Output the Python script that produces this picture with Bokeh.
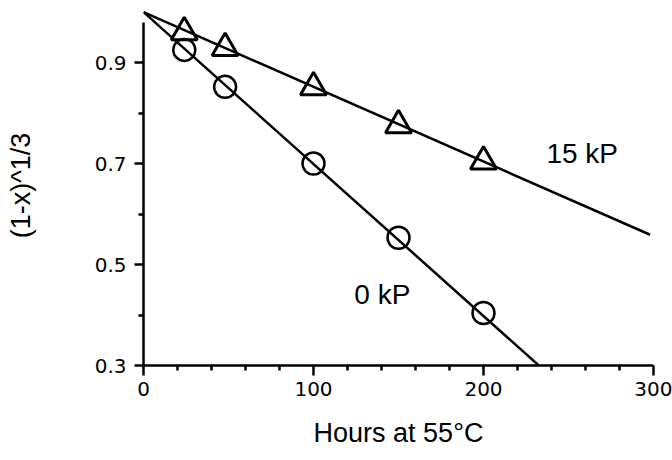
from bokeh.plotting import figure
from bokeh.models import FixedTicker, Range1d, Label
from bokeh.embed import file_html
from bokeh.resources import INLINE

# ---- data ----
hours = [24, 48, 100, 150, 200]
y_0kP = [0.925, 0.852, 0.700, 0.553, 0.404]
y_15kP = [0.960, 0.929, 0.851, 0.776, 0.704]

# fitted lines: intercept, slope, x range
fit_0kP_intercept, fit_0kP_slope = 1.0, -0.00301
fit_15kP_intercept, fit_15kP_slope = 1.0, -0.00148
fit_0kP_x = [0, 232.5]
fit_15kP_x = [0, 298]

x_ticks = [0, 100, 200, 300]
x_minor = [20, 40, 60, 80, 120, 140, 160, 180, 220, 240, 260, 280]
y_ticks = [0.3, 0.5, 0.7, 0.9]
y_minor = [0.4, 0.6, 0.8]

FONT = "Liberation Sans"

p = figure(width=672, height=460, output_backend="svg", toolbar_location=None,
           x_range=Range1d(0, 300), y_range=Range1d(0.3, 1.013),
           frame_width=510, frame_height=360,
           min_border_left=143, min_border_right=19, min_border_top=5, min_border_bottom=95)
p.outline_line_color = None
p.xgrid.visible = False
p.ygrid.visible = False
p.background_fill_color = "white"
p.border_fill_color = "white"

# fit lines
p.line(fit_0kP_x, [fit_0kP_intercept + fit_0kP_slope * x for x in fit_0kP_x],
       line_color="black", line_width=2.5)
p.line(fit_15kP_x, [fit_15kP_intercept + fit_15kP_slope * x for x in fit_15kP_x],
       line_color="black", line_width=2.5)

# markers
p.scatter(hours, y_0kP, marker="circle", size=22, fill_color=None,
          line_color="black", line_width=2.5)
p.scatter(hours, y_15kP, marker="triangle", size=26, fill_color=None,
          line_color="black", line_width=3)

# labels
p.add_layout(Label(x=237, y=0.69, text="15 kP", text_font=FONT, text_font_size="28px",
                   text_color="black"))
p.add_layout(Label(x=124, y=0.409, text="0 kP", text_font=FONT, text_font_size="28px",
                   text_color="black"))

# axes
xa = p.xaxis[0]
xa.ticker = FixedTicker(ticks=x_ticks, minor_ticks=x_minor)
xa.axis_label = "Hours at 55°C"
ya = p.yaxis[0]
ya.ticker = FixedTicker(ticks=y_ticks, minor_ticks=y_minor)
ya.axis_label = "(1-x)^1/3"
ya.bounds = (0.3, 0.979)

for ax in (xa, ya):
    ax.axis_line_width = 2.5
    ax.axis_line_color = "black"
    ax.major_tick_line_width = 2.5
    ax.minor_tick_line_width = 2.5
    ax.major_tick_line_color = "black"
    ax.minor_tick_line_color = "black"
    ax.major_tick_in = 0
    ax.minor_tick_in = 0
    ax.major_tick_out = 10
    ax.minor_tick_out = 5
    ax.major_label_text_font = "DejaVu Sans"
    ax.major_label_text_font_size = "20px"
    ax.major_label_text_color = "black"
    ax.axis_label_text_font = FONT
    ax.axis_label_text_font_style = "normal"
    ax.axis_label_text_color = "black"
    ax.axis_label_text_font_size = "27px"

ya.major_tick_out = 9
ya.major_label_standoff = 8
ya.axis_label_standoff = 56
xa.major_label_standoff = 6
xa.axis_label_standoff = 19

open("out.html", "w").write(file_html(p, INLINE))
